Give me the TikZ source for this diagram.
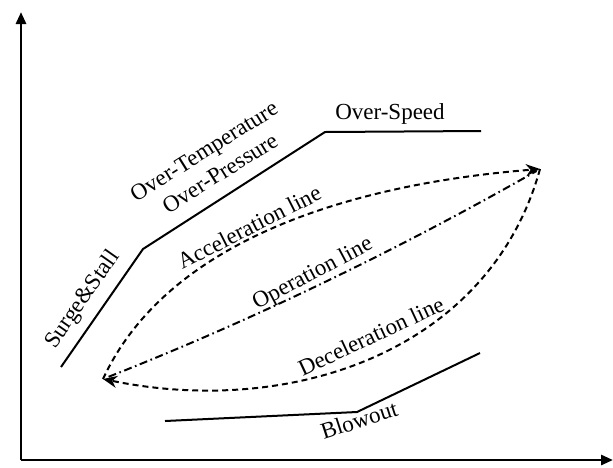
\documentclass[tikz,border=0pt]{standalone}
\usepackage{fontspec}
\setmainfont{Liberation Serif}
\usetikzlibrary{arrows.meta}
\begin{document}
\begin{tikzpicture}[x=0.5pt,y=-0.5pt,font=\fontsize{11.5}{13}\selectfont,
    axis/.style={line width=1.4pt,-{Triangle[length=6pt,width=5pt]}},
    limit/.style={line width=1pt},
    trans/.style={line width=1pt,dash pattern=on 3pt off 2pt,-{Stealth[length=7pt,width=6pt]}},
    oper/.style={line width=1pt,dash pattern=on 4pt off 1.8pt on 0.8pt off 1.8pt},
    lbl/.style={inner sep=1pt}]
\useasboundingbox (0,0) rectangle (613,467);
\foreach \n/\p in {o/{21,460},ytop/{21,12},xend/{613,460},
                   s1/{61,367},s2/{143,249},s3/{325,132},s4/{481,131},
                   b1/{165,421},b2/{357,412},b3/{480,353},
                   lo/{103,379},hi/{540,169}}
    \coordinate (\n) at (\p);
\draw[axis] (o) -- (ytop);
\draw[axis] (o) -- (xend);
% limits
\draw[limit] (s1) -- (s2) -- (s3) -- (s4);
\draw[limit] (b1) -- (b2) -- (b3);
% transients
\draw[trans] (lo) .. controls (165,245) and (340,185) .. (hi);
\draw[trans] (hi) .. controls (490,350) and (293,418) .. (lo);
\draw[oper,shorten <=3pt,shorten >=2pt] (lo) .. controls (250,321) and (394,252) .. (hi);
% labels
\node[lbl,rotate=55] (surge) at (83,300) {Surge\&Stall};
\node[lbl,rotate=32] (otemp) at (205,153) {Over-Temperature};
\node[lbl,rotate=32] (opres) at (220,173) {Over-Pressure};
\node[lbl] (ospeed) at (390,114) {Over-Speed};
\node[lbl,rotate=27] (acc) at (249,227) {Acceleration line};
\node[lbl,rotate=28] (opl) at (313,274) {Operation line};
\node[lbl,rotate=25] (dec) at (371,336) {Deceleration line};
\node[lbl,rotate=18] (blow) at (359,420) {Blowout};
\end{tikzpicture}
\end{document}
